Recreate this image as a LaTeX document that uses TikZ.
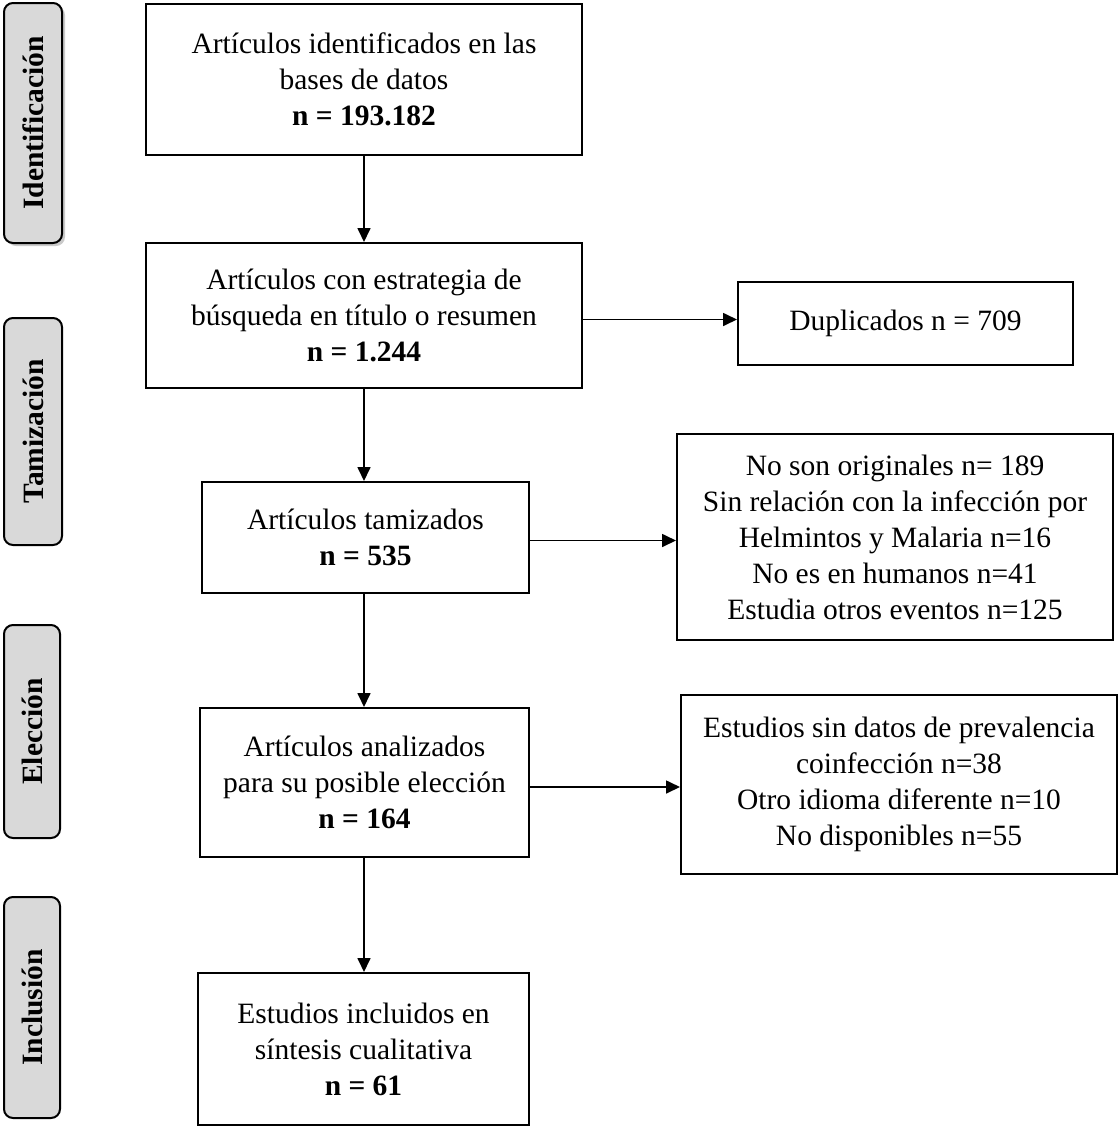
\documentclass[tikz,border=0pt]{standalone}
\usepackage{fontspec}
\setmainfont{Liberation Serif}
\usetikzlibrary{arrows.meta,shadows}
\begin{document}
\begin{tikzpicture}[x=1pt,y=-1pt,
  box/.style={draw,line width=2pt,align=center,inner sep=0pt,font=\fontsize{29.5}{36}\selectfont},
  side/.style={draw,line width=2pt,rounded corners=9pt,fill=black!15,inner sep=0pt},
  sidetext/.style={rotate=90,font=\fontsize{29.5}{32}\selectfont\bfseries},
  arr/.style={line width=1.7pt,-{Triangle[length=14pt,width=13pt]}}]
\useasboundingbox (0,0) rectangle (1119,1128);
% side labels
\node[side,minimum width=58pt,minimum height=240pt,drop shadow={shadow xshift=3pt,shadow yshift=-3pt,fill=black!35,opacity=0.6}] (sid) at (33,123) {};
\node[sidetext] (tid) at (sid.center) {Identificación};
\node[side,minimum width=58pt,minimum height=227pt] (stam) at (33,431.5) {};
\node[sidetext] (ttam) at (stam.center) {Tamización};
\node[side,minimum width=56pt,minimum height=213pt] (sele) at (32,731.5) {};
\node[sidetext] (tele) at (sele.center) {Elección};
\node[side,minimum width=56pt,minimum height=221pt] (sinc) at (32,1007.5) {};
\node[sidetext] (tinc) at (sinc.center) {Inclusión};
% main boxes
\node[box,minimum width=436pt,minimum height=151pt] (b1) at (364,79.5) {Artículos identificados en las\\bases de datos\\\textbf{n = 193.182}};
\node[box,minimum width=436pt,minimum height=145pt] (b2) at (364,315.5) {Artículos con estrategia de\\búsqueda en título o resumen\\\textbf{n = 1.244}};
\node[box,minimum width=335pt,minimum height=83pt] (dup) at (905.5,323.5) {Duplicados n = 709};
\node[box,minimum width=327pt,minimum height=111pt] (b3) at (365.5,537.5) {Artículos tamizados\\\textbf{n = 535}};
\node[box,minimum width=436pt,minimum height=206pt] (e3) at (895,537) {No son originales n= 189\\Sin relación con la infección por\\Helmintos y Malaria n=16\\No es en humanos n=41\\Estudia otros eventos n=125};
\node[box,minimum width=329pt,minimum height=149pt] (b4) at (364.5,782.5) {Artículos analizados\\para su posible elección\\\textbf{n = 164}};
\node[box,minimum width=436pt,minimum height=179pt] (e4) at (899,784.5) {Estudios sin datos de prevalencia\\coinfección n=38\\Otro idioma diferente n=10\\No disponibles n=55};
\node[box,minimum width=331pt,minimum height=152pt] (b5) at (363.5,1049) {Estudios incluidos en\\síntesis cualitativa\\\textbf{n = 61}};
% arrows
\draw[arr] (b1.south) -- (b2.north);
\draw[arr] (b2.south) -- (b2.south |- b3.north);
\draw[arr] (b2.south |- b3.south) -- (b2.south |- b4.north);
\draw[arr] (b2.south |- b4.south) -- (b2.south |- b5.north);
\draw[arr] ([yshift=-4pt]b2.east) -- ([yshift=-4pt]b2.east -| dup.west);
\draw[arr] ([yshift=-3pt]b3.east) -- ([yshift=-3pt]b3.east -| e3.west);
\draw[arr] ([yshift=-4.5pt]b4.east) -- ([yshift=-4.5pt]b4.east -| e4.west);
\end{tikzpicture}
\end{document}
